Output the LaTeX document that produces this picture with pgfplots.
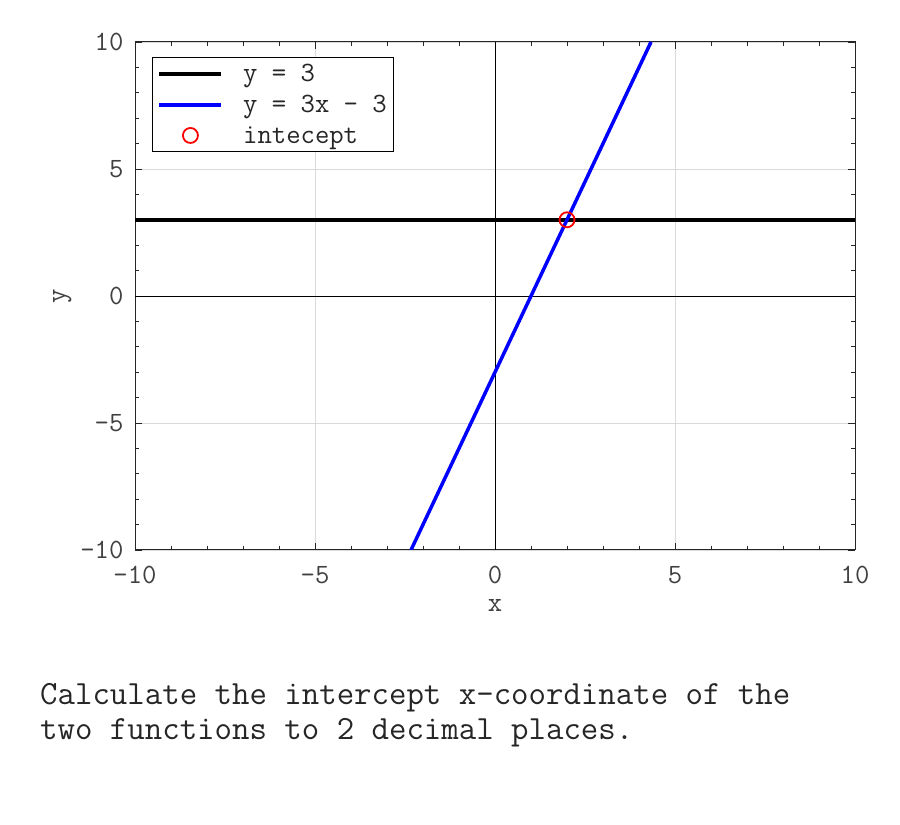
\documentclass[border=0pt]{standalone}
\usepackage{pgfplots}
\pgfplotsset{compat=1.18}
\begin{document}
\ttfamily
\begin{tikzpicture}[x=1bp,y=1bp,font=\ttfamily]
\useasboundingbox (0,0) rectangle (900,825);
\begin{axis}[
  at={(135bp,275bp)}, anchor=south west,
  width=720bp, height=508bp, scale only axis,
  xmin=-10, xmax=10, ymin=-10, ymax=10,
  xtick={-10,-5,0,5,10}, ytick={-10,-5,0,5,10},
  minor tick num=4,
  grid=major,
  major grid style={black!15, line width=0.6bp},
  tick align=inside,
  major tick length=7bp, minor tick length=4bp,
  axis line style={black!85, line width=1bp},
  tick style={black!85, line width=0.8bp},
  /pgf/number format/assume math mode=true,
  ticklabel style={font=\ttfamily\fontsize{28}{30}\selectfont, text=black!75},
  xticklabel style={anchor=center, yshift=-25bp},
  yticklabel style={anchor=east, xshift=-8bp},
  label style={font=\ttfamily\fontsize{28}{30}\selectfont, text=black!75},
  xlabel={x}, ylabel={y},
  xlabel style={at={(axis description cs:0.5,-0.11)}, anchor=center},
  ylabel style={at={(axis description cs:-0.101,0.5)}, anchor=center},
  legend style={at={(0.024,0.97)}, anchor=north west, draw=black, line width=0.8bp,
    font=\ttfamily\fontsize{28}{30}\selectfont, text=black!85, inner sep=5bp, row sep=8bp,
    /tikz/every odd column/.append style={column sep=18bp}},
  legend cell align=left,
]
\addplot[black, line width=0.9bp, forget plot] coordinates {(-10,0) (10,0)};
\addplot[black, line width=0.9bp, forget plot] coordinates {(0,-10) (0,10)};
\addplot[black, line width=3.5bp, legend image code/.code={\draw[black, line width=3.5bp] (0bp,0bp) -- (62bp,0bp);}] coordinates {(-10,3) (10,3)};
\addlegendentry{y = 3}
\addplot[blue, line width=3.5bp, legend image code/.code={\draw[blue, line width=3.5bp] (0bp,0bp) -- (62bp,0bp);}] coordinates {(-2.3333,-10) (4.3333,10)};
\addlegendentry{y = 3x - 3}
\addplot[only marks, mark=o, red, mark size=7.5bp, line width=1.8bp,
  legend image code/.code={\draw[red, line width=1.8bp] (31bp,0bp) circle (7.5bp);}] coordinates {(2,3)};
\addlegendentry{intecept}
\end{axis}
\node[anchor=base west, font=\ttfamily\fontsize{34}{36}\selectfont, text=black!85, inner sep=0pt] at (40,120) {Calculate the intercept x-coordinate of the};
\node[anchor=base west, font=\ttfamily\fontsize{34}{36}\selectfont, text=black!85, inner sep=0pt] at (40,85) {two functions to 2 decimal places.};
\end{tikzpicture}
\end{document}
